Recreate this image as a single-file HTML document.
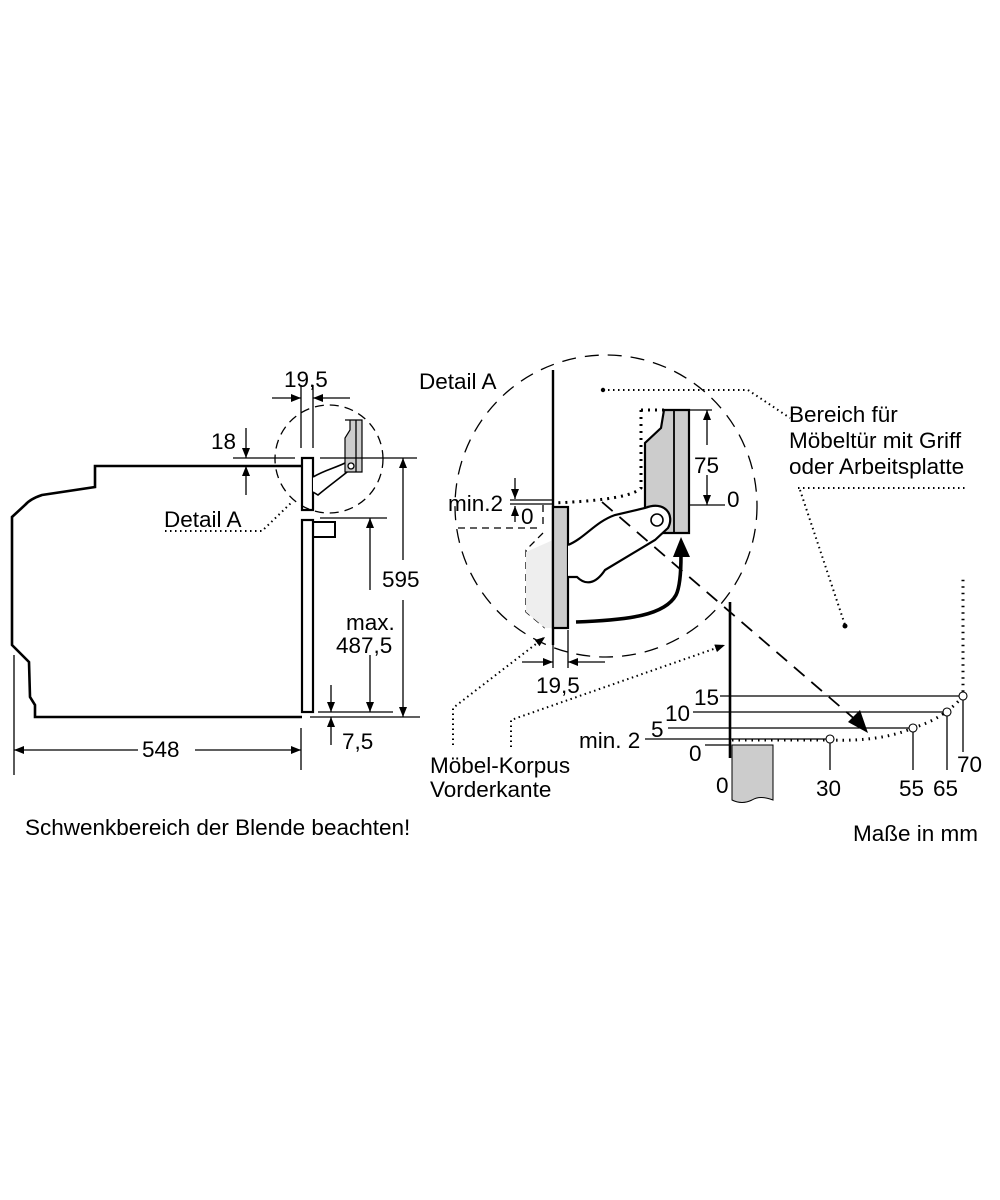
<!DOCTYPE html>
<html><head><meta charset="utf-8"><style>
html,body{margin:0;padding:0;background:#fff}
svg{display:block}
text{font-family:"Liberation Sans",sans-serif;font-size:22.5px;fill:#000}
</style></head><body>
<svg width="1000" height="1200" viewBox="0 0 1000 1200" xmlns="http://www.w3.org/2000/svg">
<defs>
<marker id="a" viewBox="0 0 10 10" refX="10" refY="5" markerWidth="10" markerHeight="10" markerUnits="userSpaceOnUse" orient="auto"><path d="M0,1 L10,5 L0,9z" fill="#000"/></marker>
</defs>
<g fill="none" stroke="#000" stroke-width="1.3">
<path d="M301,466 L95,466 L95,487 L42,495 Q30,499 25,505 L12,517 L12,645 L29,662 L30,697 L35,705 L35,717 L302,717" stroke-width="2.6"/>
<rect x="302" y="458" width="11" height="52" stroke-width="2.2"/>
<rect x="302" y="520" width="11" height="192" stroke-width="2.2"/>
<path d="M313,522 H335 V537 H313" stroke-width="2"/>
<path d="M313,477 C325,470 335,468 345,463 L352,468 C340,478 330,485 318,495 L313,492" fill="#fff" stroke-width="1.6"/>
<path d="M345,420 H362 V472 H345 V438 L350,430 V420z" fill="#ccc" stroke-width="1.2"/>
<line x1="356" y1="420" x2="356" y2="472"/>
<circle cx="351" cy="466" r="3" fill="#fff"/>
<circle cx="329" cy="459" r="54" stroke-dasharray="9,6"/>
<line x1="233" y1="458" x2="295" y2="458"/>
<line x1="246" y1="428" x2="246" y2="458" marker-end="url(#a)"/>
<line x1="246" y1="495" x2="246" y2="466" marker-end="url(#a)"/>
<line x1="301" y1="385" x2="301" y2="448"/>
<line x1="313" y1="385" x2="313" y2="448"/>
<line x1="272" y1="398" x2="301" y2="398" marker-end="url(#a)"/>
<line x1="350" y1="398" x2="313" y2="398" marker-end="url(#a)"/>
<line x1="320" y1="458" x2="417" y2="458"/>
<line x1="310" y1="717" x2="420" y2="717"/>
<line x1="403" y1="560" x2="403" y2="458" marker-end="url(#a)"/>
<line x1="403" y1="600" x2="403" y2="717" marker-end="url(#a)"/>
<line x1="320" y1="518" x2="387" y2="518"/>
<line x1="318" y1="712" x2="393" y2="712"/>
<line x1="370" y1="590" x2="370" y2="518" marker-end="url(#a)"/>
<line x1="370" y1="655" x2="370" y2="712" marker-end="url(#a)"/>
<line x1="331" y1="685" x2="331" y2="712" marker-end="url(#a)"/>
<line x1="331" y1="745" x2="331" y2="717" marker-end="url(#a)"/>
<line x1="14" y1="655" x2="14" y2="775"/>
<line x1="301" y1="728" x2="301" y2="770"/>
<line x1="138" y1="750" x2="14" y2="750" marker-end="url(#a)"/>
<line x1="195" y1="750" x2="301" y2="750" marker-end="url(#a)"/>
<path d="M165,531 H262 L292,502" stroke-dasharray="1.5,3.5" stroke-width="2"/>
<circle cx="606" cy="506" r="151" stroke-dasharray="14,9"/>
<path d="M543,505 V528 M458,528 H540 M543,533 L526,550 V612 L545,628" stroke-dasharray="7,5"/>
<path d="M553,540 L526,552 V612 L545,628 H553z" fill="#eee" stroke="none"/>
<line x1="553" y1="370" x2="553" y2="645" stroke-width="2.4"/>
<rect x="553" y="507" width="15" height="121" fill="#ccc" stroke-width="2.2"/>
<path d="M664,410 H689 V533 H645 V443 L661,428z" fill="#ccc" stroke-width="2.2"/>
<line x1="674" y1="410" x2="674" y2="533" stroke-width="1.8"/>
<path d="M641,410 H664 M641,410 V488 Q630,500 553,503" stroke-dasharray="2,5" stroke-width="3"/>
<path d="M603,390 H748 L790,418" stroke-dasharray="1.5,3.5" stroke-width="2"/>
<path d="M568,545 C585,538 595,522 615,515 L645,508 C665,500 675,515 668,528 L655,540 L605,570 C595,585 585,585 577,577 L568,577" fill="#fff" stroke-width="2.2"/>
<circle cx="657" cy="520" r="6" fill="#fff" stroke-width="1.6"/>
<path d="M576,622 C630,620 665,615 676,595 Q681,585 681,555" stroke-width="3.6"/>
<line x1="689" y1="410" x2="712" y2="410"/>
<line x1="689" y1="505" x2="725" y2="505"/>
<line x1="707" y1="445" x2="707" y2="410" marker-end="url(#a)"/>
<line x1="707" y1="475" x2="707" y2="505" marker-end="url(#a)"/>
<line x1="510" y1="500" x2="553" y2="500"/>
<line x1="510" y1="504" x2="553" y2="504"/>
<line x1="515" y1="478" x2="515" y2="499" marker-end="url(#a)"/>
<line x1="515" y1="522" x2="515" y2="506" marker-end="url(#a)"/>
<line x1="553" y1="630" x2="553" y2="668"/>
<line x1="568" y1="630" x2="568" y2="668"/>
<line x1="522" y1="662" x2="553" y2="662" marker-end="url(#a)"/>
<line x1="605" y1="662" x2="568" y2="662" marker-end="url(#a)"/>
<path d="M602,502 L858,722" stroke-dasharray="14,9" stroke-width="1.8"/>
<path d="M453,745 V708 L545,637" stroke-dasharray="1.5,3.5" stroke-width="2" marker-end="url(#a)"/>
<path d="M511,747 V720 L725,645" stroke-dasharray="1.5,3.5" stroke-width="2" marker-end="url(#a)"/>
<line x1="730" y1="602" x2="730" y2="758" stroke-width="2.6"/>
<path d="M732,745 H773 V800 Q760,795 752,800 Q742,805 732,800z" fill="#ccc" stroke-width="1"/>
<line x1="720" y1="696" x2="963" y2="696"/>
<line x1="693" y1="712" x2="947" y2="712"/>
<line x1="668" y1="728" x2="913" y2="728"/>
<line x1="645" y1="739" x2="830" y2="739"/>
<line x1="705" y1="745" x2="730" y2="745"/>
<line x1="830" y1="739" x2="830" y2="770"/>
<line x1="913" y1="728" x2="913" y2="770"/>
<line x1="947" y1="712" x2="947" y2="770"/>
<line x1="963" y1="696" x2="963" y2="752"/>
<path d="M732,740 H830 Q880,742 913,728 Q945,718 963,696 V575" stroke-dasharray="1.5,5" stroke-width="3"/>
<path d="M798,488 H965 M800,490 L845,625" stroke-dasharray="1.5,3.5" stroke-width="2"/>
<g stroke-width="1.1" fill="#fff"><circle cx="963" cy="696" r="4"/><circle cx="947" cy="712" r="4"/><circle cx="913" cy="728" r="4"/><circle cx="830" cy="739" r="4"/></g>
</g>
<circle cx="603" cy="390" r="2.2"/>
<circle cx="845" cy="626" r="2.5"/>
<polygon points="673,557 681,537 690,557"/>
<polygon points="868,733 848,722 860,710"/>
<text x="284" y="387">19,5</text>
<text x="211" y="449">18</text>
<text x="164" y="527">Detail A</text>
<text x="382" y="587">595</text>
<text x="346" y="630">max.</text>
<text x="336" y="653">487,5</text>
<text x="342" y="749">7,5</text>
<text x="142" y="757">548</text>
<text x="419" y="389">Detail A</text>
<text x="694" y="473">75</text>
<text x="727" y="507">0</text>
<text x="448" y="511">min.2</text>
<text x="521" y="524">0</text>
<text x="536" y="693">19,5</text>
<text x="789" y="422">Bereich für</text>
<text x="789" y="448">Möbeltür mit Griff</text>
<text x="789" y="474">oder Arbeitsplatte</text>
<text x="694" y="705">15</text>
<text x="665" y="721">10</text>
<text x="651" y="737">5</text>
<text x="579" y="748">min. 2</text>
<text x="689" y="761">0</text>
<text x="716" y="793">0</text>
<text x="816" y="796">30</text>
<text x="899" y="796">55</text>
<text x="933" y="796">65</text>
<text x="957" y="772">70</text>
<text x="430" y="773">Möbel-Korpus</text>
<text x="430" y="797">Vorderkante</text>
<text x="25" y="835">Schwenkbereich der Blende beachten!</text>
<text x="853" y="841">Maße in mm</text>
</svg>
</body></html>
